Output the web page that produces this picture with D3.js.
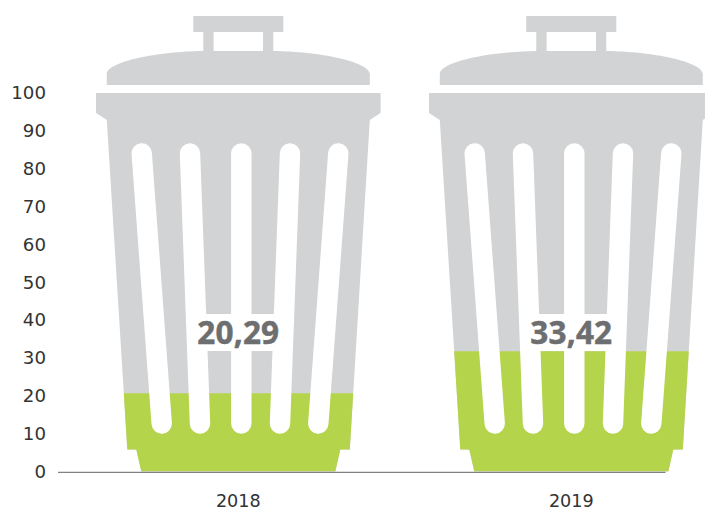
<!DOCTYPE html>
<html><head><meta charset="utf-8">
<script src="https://cdn.jsdelivr.net/npm/d3@7"></script>
<style>html,body{margin:0;padding:0;background:#fff}svg{display:block}</style>
</head><body><svg id="c" width="705" height="509"></svg>
<script>
const categories = ["2018", "2019"];
const labelTexts = ["20,29", "33,42"];
const fillLevels = [20.7, 31.8];
const yTicks = [0,10,20,30,40,50,60,70,80,90,100];

const svg = d3.select("#c");
const GREY="#d1d3d4", GREEN="#b4d44b";
const y = d3.scaleLinear().domain([0,100]).range([471.5,93]);
const x = d3.scalePoint().domain(categories).range([238.3,571.3]);

// Bin outline, in pixels relative to the bin's centre line (x) and baseline (y)
const binPath = [
 "M-45,-455.5H45V-439.5H35V-420.5C80,-420 131,-410 131.5,-397.5V-386.5H-131.5V-397.5C-131,-410 -80,-420 -35,-420.5V-439.5H-45Z",
 "M-24.7,-439.5H24.7V-420.5H-24.7Z",
 "M-142.3,-378.5H142.3V-358.5L131.5,-351.5L111.5,-22H102L97,0H-97L-102,-22H-111L-131.5,-351.5L-142.3,-358.5Z"
].join("");
const slots = [[-96.6,-76.6],[-48.3,-38.3],[3,3],[51.7,41.7],[100,80]];
const slotTop=-318, slotBottom=-48;

const defs = svg.append("defs");
categories.forEach((c,i)=>{
  defs.append("clipPath").attr("id","lvl"+i).append("rect")
    .attr("x",-160).attr("width",320)
    .attr("y",y(fillLevels[i])-y(0)).attr("height",y(0)-y(fillLevels[i]));
});

const g = svg.selectAll("g.bin").data(categories).join("g").attr("class","bin")
  .attr("transform",d=>`translate(${x(d)},${y(0)})`);
g.append("path").attr("d",binPath).attr("fill",GREY).attr("fill-rule","evenodd");
g.append("path").attr("d",binPath).attr("fill",GREEN).attr("fill-rule","evenodd").attr("clip-path",(d,i)=>`url(#lvl${i})`);
g.selectAll("line.slot").data(slots).join("line").attr("class","slot")
  .attr("x1",d=>d[0]).attr("x2",d=>d[1]).attr("y1",slotTop).attr("y2",slotBottom)
  .attr("stroke","#fff").attr("stroke-width",20.4).attr("stroke-linecap","round");
g.append("rect").attr("x",-44).attr("width",88).attr("y",-157.5).attr("height",37).attr("fill","#fff");
g.append("text").data(labelTexts).attr("y",-128).attr("text-anchor","middle")
  .attr("font-family","'Open Sans'").attr("font-weight",700).attr("font-size",31.5)
  .attr("letter-spacing",0.2).attr("stroke","#6d6e70").attr("stroke-width",0.5).attr("fill","#6d6e70").text(d=>d);

const axisL = d3.axisLeft(y).tickValues(yTicks).tickSize(0).tickPadding(0);
const ag = svg.append("g").attr("transform","translate(46,0)").call(axisL);
ag.select(".domain").remove();
ag.selectAll("text").attr("font-family","'DejaVu Sans'").attr("font-size",18.2).attr("fill","#333");

const xg = svg.append("g").attr("transform",`translate(0,${y(0)})`);
xg.append("line").attr("x1",58).attr("x2",665.5).attr("y1",0.8).attr("y2",0.8).attr("stroke","#808285").attr("stroke-width",1.3);
xg.selectAll("text").data(categories).join("text").attr("x",d=>x(d)).attr("y",35)
  .attr("text-anchor","middle").attr("font-family","'DejaVu Sans'").attr("font-size",17.6).attr("fill","#333").text(d=>d);
</script></body></html>
